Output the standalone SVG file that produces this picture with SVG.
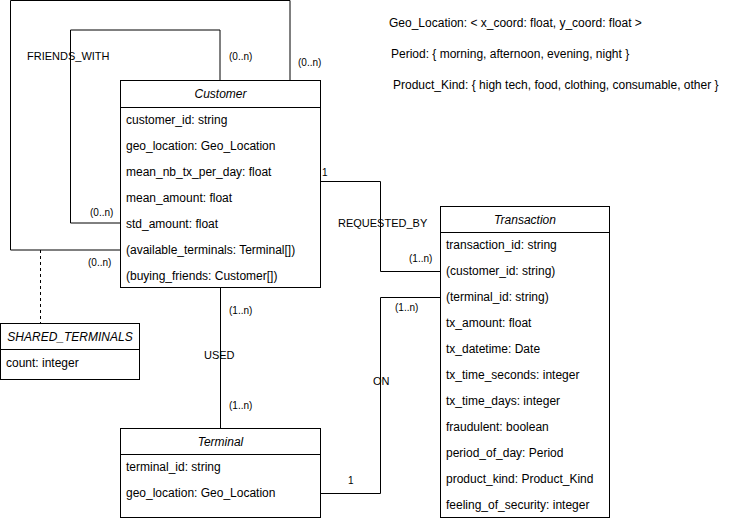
<svg xmlns="http://www.w3.org/2000/svg" width="751" height="522" viewBox="0 0 751 522">
<style>
text{font-family:"Liberation Sans",Arial,sans-serif;fill:#000}
.row{font-size:12px}
.hd{font-size:12px;font-style:italic;text-anchor:middle}
.card{font-size:10px}
.rel{font-size:11px}
.box{fill:#fff;stroke:#000;stroke-width:1}
.ln{fill:none;stroke:#000;stroke-width:1}
</style>
<rect width="751" height="522" fill="#fff"/>
<g id="connectors">
<polyline class="ln" points="290,80 290,0.5 10.5,0.5 10.5,250 120,250"/>
<polyline class="ln" points="220,80 220,30 70.5,30 70.5,223 120,223"/>
<line class="ln" x1="40.5" y1="250" x2="40.5" y2="323" stroke-dasharray="3 3"/>
<polyline class="ln" points="321,181.5 380.5,181.5 380.5,271.5 440,271.5"/>
<line class="ln" x1="220.5" y1="288" x2="220.5" y2="428"/>
<polyline class="ln" points="321,493.5 380.5,493.5 380.5,297.5 440,297.5"/>
<text class="rel" x="27" y="60">FRIENDS_WITH</text>
<text class="card" x="229" y="60">(0..n)</text>
<text class="card" x="298" y="66">(0..n)</text>
<text class="card" x="90" y="216">(0..n)</text>
<text class="card" x="88" y="266">(0..n)</text>
<text class="card" x="322" y="176">1</text>
<text class="rel" x="338" y="227">REQUESTED_BY</text>
<text class="card" x="409" y="262">(1..n)</text>
<text class="card" x="229" y="314">(1..n)</text>
<text class="rel" x="204" y="359">USED</text>
<text class="card" x="229" y="409">(1..n)</text>
<text class="card" x="348" y="484">1</text>
<text class="card" x="395" y="311">(1..n)</text>
<text class="rel" x="373" y="385">ON</text>
</g>
<g id="customer">
<rect class="box" x="120.5" y="80.5" width="200" height="207"/>
<line class="ln" x1="120.5" y1="107.5" x2="320.5" y2="107.5"/>
<text class="hd" x="220.5" y="98">Customer</text>
<text class="row" x="126" y="124">customer_id: string</text>
<text class="row" x="126" y="150">geo_location: Geo_Location</text>
<text class="row" x="126" y="176">mean_nb_tx_per_day: float</text>
<text class="row" x="126" y="202">mean_amount: float</text>
<text class="row" x="126" y="228">std_amount: float</text>
<text class="row" x="126" y="254">(available_terminals: Terminal[])</text>
<text class="row" x="126" y="280">(buying_friends: Customer[])</text>
</g>
<g id="shared_terminals">
<rect class="box" x="0.5" y="323.5" width="139" height="56"/>
<line class="ln" x1="0.5" y1="349.5" x2="139.5" y2="349.5"/>
<text class="hd" x="70" y="341">SHARED_TERMINALS</text>
<text class="row" x="6" y="367">count: integer</text>
</g>
<g id="terminal">
<rect class="box" x="120.5" y="428.5" width="200" height="89"/>
<line class="ln" x1="120.5" y1="454.5" x2="320.5" y2="454.5"/>
<text class="hd" x="220.5" y="446">Terminal</text>
<text class="row" x="126" y="471">terminal_id: string</text>
<text class="row" x="126" y="497">geo_location: Geo_Location</text>
</g>
<g id="transaction">
<rect class="box" x="440.5" y="206.5" width="169" height="311"/>
<line class="ln" x1="440.5" y1="232.5" x2="609.5" y2="232.5"/>
<text class="hd" x="525" y="224">Transaction</text>
<text class="row" x="446" y="249">transaction_id: string</text>
<text class="row" x="446" y="275">(customer_id: string)</text>
<text class="row" x="446" y="301">(terminal_id: string)</text>
<text class="row" x="446" y="327">tx_amount: float</text>
<text class="row" x="446" y="353">tx_datetime: Date</text>
<text class="row" x="446" y="379">tx_time_seconds: integer</text>
<text class="row" x="446" y="405">tx_time_days: integer</text>
<text class="row" x="446" y="431">fraudulent: boolean</text>
<text class="row" x="446" y="457">period_of_day: Period</text>
<text class="row" x="446" y="483">product_kind: Product_Kind</text>
<text class="row" x="446" y="509">feeling_of_security: integer</text>
</g>
<g id="types">
<text class="row" x="389" y="27">Geo_Location: &lt; x_coord: float, y_coord: float &gt;</text>
<text class="row" x="391" y="58">Period: { morning, afternoon, evening, night }</text>
<text class="row" x="393" y="89">Product_Kind: { high tech, food, clothing, consumable, other }</text>
</g>
</svg>
